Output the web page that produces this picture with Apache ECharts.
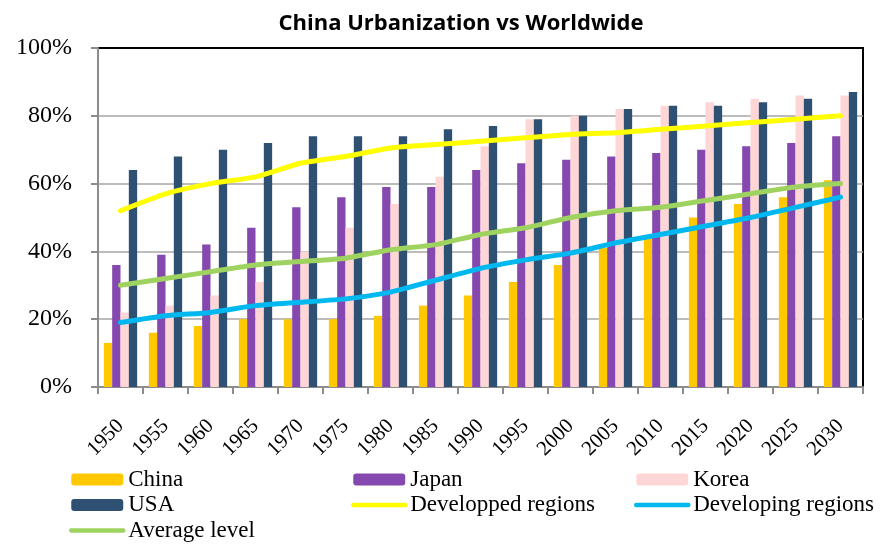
<!DOCTYPE html>
<html>
<head>
<meta charset="utf-8">
<script src="https://cdn.jsdelivr.net/npm/echarts@6/dist/echarts.min.js"></script>
<style>html,body{margin:0;padding:0;background:#fff;}#c{width:882px;height:544px;}</style>
</head>
<body>
<div id="c"></div>
<script>
const years = ['1950','1955','1960','1965','1970','1975','1980','1985','1990','1995','2000','2005','2010','2015','2020','2025','2030'];
const china = [13,16,18,20,20,20,21,24,27,31,36,41,44,50,54,56,61];
const japan = [36,39,42,47,53,56,59,59,64,66,67,68,69,70,71,72,74];
const korea = [22,24,27,31,40,47,54,62,71,79,80,82,83,84,85,86,86];
const usa = [64,68,70,72,74,74,74,76,77,79,80,82,83,83,84,85,87];
const developed = [52,57,60,62,66,68,70.5,71.5,72.5,73.5,74.5,75,76,77,78,79,80];
const developing = [19,21,22,24,25,26,28,31.5,35,37.5,39.5,42.5,45,47.5,50,53,56];
const average = [30,32,34,36,37,38,40.5,42,45,47,50,52,53,55,57,59,60];

const serif = "'Liberation Serif','Times New Roman',serif";
const chart = echarts.init(document.getElementById('c'), null, {renderer:'canvas'});
function bar(name, data, color){
  return {name, type:'bar', data, barGap:'0%', barCategoryGap:'26%', itemStyle:{color}};
}
function line(name, data, color){
  return {name, type:'line', data, symbol:'none', smooth:0.2, z:3,
    lineStyle:{color, width:5, cap:'round', join:'round'}, itemStyle:{color}};
}
const legendBase = {orient:'vertical', itemWidth:52, itemHeight:12, itemGap:0.5, padding:0,
  lineStyle:{width:4.5, cap:'round'},
  textStyle:{fontFamily:serif, fontSize:23, color:'#000', lineHeight:25}};
const lineItem = (name) => ({name, itemStyle:{opacity:0}});
chart.setOption({
  animation:false,
  title:{text:'China Urbanization vs Worldwide', left:456, top:8, textAlign:'center',
    textStyle:{fontFamily:'Open Sans', fontWeight:'bold', fontSize:22, color:'#000'}},
  grid:{left:98, right:19, top:48, bottom:157, show:true, borderColor:'#000', borderWidth:2, containLabel:false},
  legend:[
    Object.assign({}, legendBase, {left:69, top:467, data:['China','USA',lineItem('Average level')]}),
    Object.assign({}, legendBase, {left:351, top:467, data:['Japan',lineItem('Developped regions')]}),
    Object.assign({}, legendBase, {left:634, top:467, data:['Korea',lineItem('Developing regions')]})
  ],
  xAxis:{type:'category', data:years, boundaryGap:true,
    axisLine:{lineStyle:{color:'#8C8C8C', width:2}},
    axisTick:{show:true, interval:0, length:7, lineStyle:{color:'#8C8C8C', width:2}},
    axisLabel:{interval:0, rotate:45, margin:36, fontFamily:serif, fontSize:21, color:'#000'}},
  yAxis:{type:'value', min:0, max:100, interval:20,
    axisLine:{show:true, lineStyle:{color:'#8C8C8C', width:2}},
    axisTick:{show:true, length:7, lineStyle:{color:'#8C8C8C', width:2}},
    axisLabel:{formatter:'{value}%', margin:26, fontFamily:serif, fontSize:24, color:'#000'},
    splitLine:{show:true, showMaxLine:false, lineStyle:{color:'#A6A6A6', width:1.5}}},
  series:[
    bar('China', china, '#FFC800'),
    bar('Japan', japan, '#8548AE'),
    bar('Korea', korea, '#FFD6D6'),
    bar('USA', usa, '#2E5173'),
    line('Developped regions', developed, '#FFFF00'),
    line('Developing regions', developing, '#00B8F0'),
    line('Average level', average, '#9FD35F')
  ]
});
</script>
</body>
</html>
